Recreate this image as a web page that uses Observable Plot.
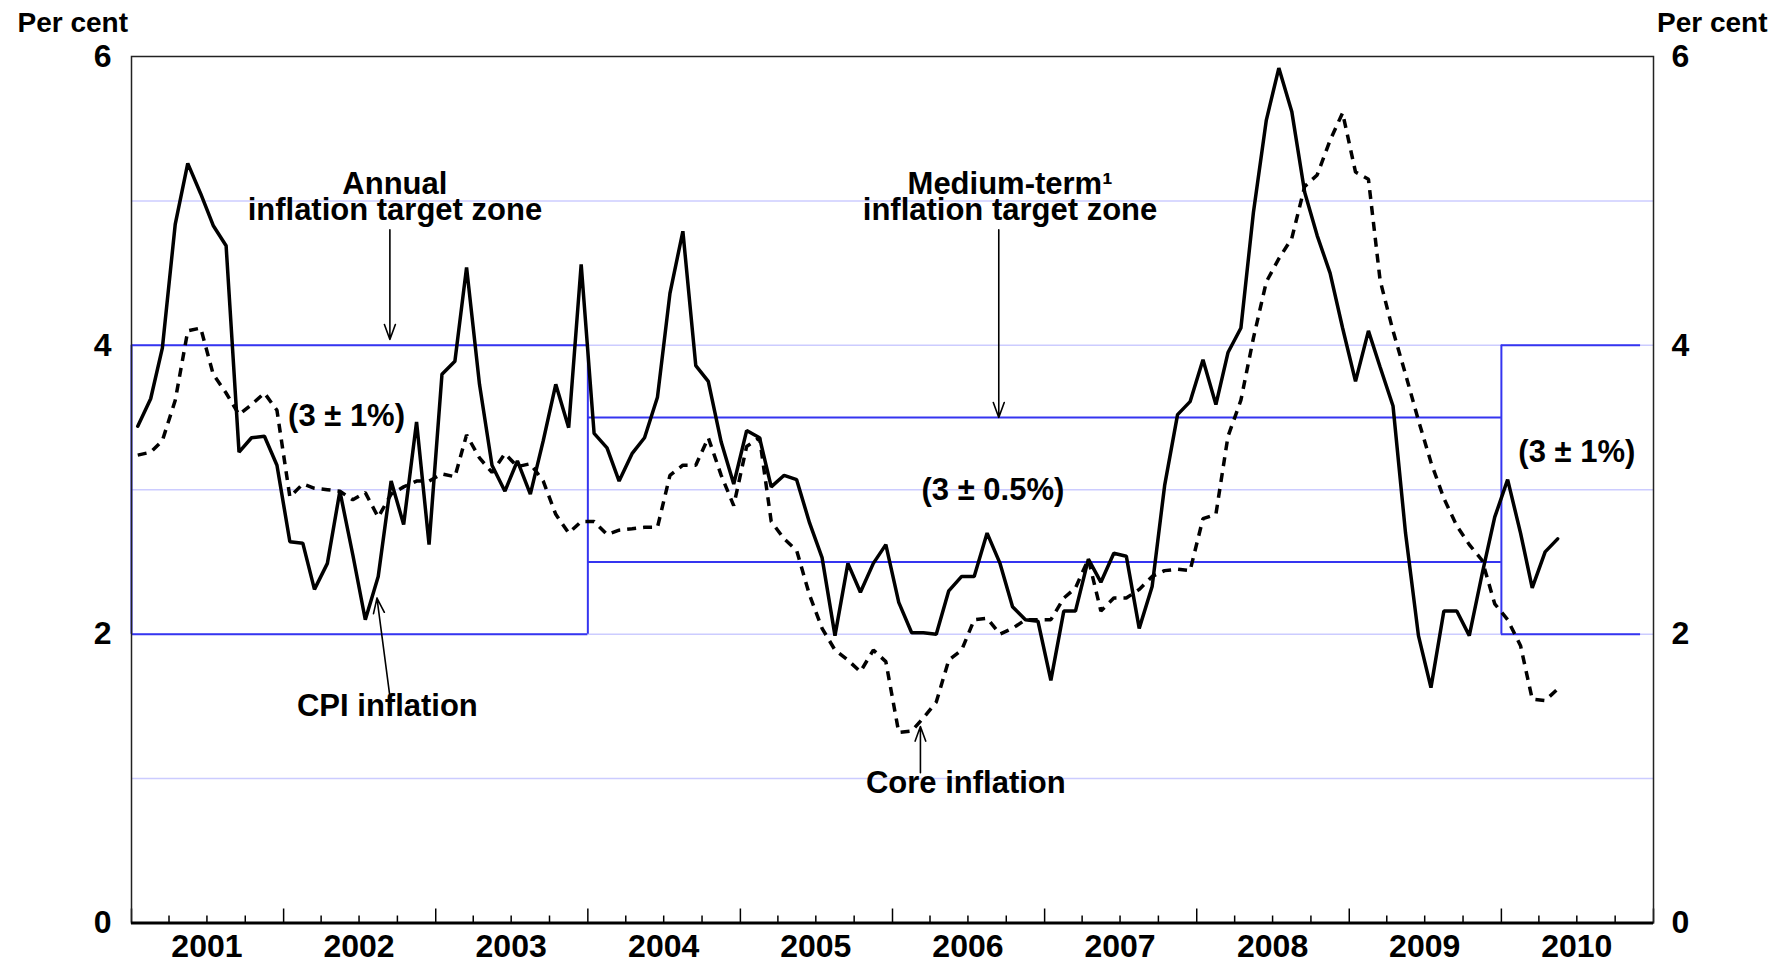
<!DOCTYPE html>
<html><head><meta charset="utf-8">
<script src="https://cdn.jsdelivr.net/npm/d3@7"></script>
<script src="https://cdn.jsdelivr.net/npm/@observablehq/plot@0.6"></script>
<style>
html,body{margin:0;padding:0;background:#fff;overflow:hidden;}
</style></head><body><div id="chart"></div>
<script>
// ---- data (monthly, from January 2001) ----
const startYear = 2001;
const cpi = [
  3.44,3.63,3.98,4.84,5.26,5.05,4.83,4.69,3.26,3.36,3.37,3.17,
  2.64,2.63,2.31,2.49,2.99,2.55,2.10,2.40,3.06,2.76,3.47,2.62,
  3.80,3.89,4.54,3.73,3.17,2.99,3.20,2.97,3.34,3.73,3.43,4.56,
  3.39,3.29,3.06,3.25,3.36,3.64,4.36,4.79,3.86,3.75,3.33,3.04,
  3.41,3.36,3.02,3.10,3.07,2.77,2.53,1.99,2.49,2.29,2.49,2.62,
  2.22,2.01,2.01,2.00,2.30,2.40,2.40,2.70,2.49,2.19,2.10,2.09,
  1.68,2.16,2.16,2.52,2.36,2.56,2.54,2.04,2.33,3.03,3.52,3.61,
  3.90,3.59,3.95,4.12,4.92,5.56,5.92,5.62,5.06,4.76,4.50,4.12,
  3.75,4.10,3.85,3.58,2.70,1.99,1.63,2.16,2.16,1.99,2.42,2.81,
  3.07,2.70,2.32,2.57,2.66
];
const core = [
  3.24,3.26,3.34,3.62,4.10,4.12,3.80,3.67,3.52,3.59,3.67,3.55,
  2.95,3.04,3.01,3.00,2.99,2.93,2.98,2.81,2.97,3.02,3.06,3.06,
  3.11,3.09,3.38,3.22,3.12,3.25,3.16,3.18,3.06,2.83,2.70,2.78,
  2.78,2.69,2.72,2.73,2.74,2.74,3.10,3.17,3.17,3.36,3.10,2.89,
  3.30,3.36,2.78,2.66,2.58,2.27,2.04,1.89,1.82,1.74,1.89,1.81,
  1.32,1.33,1.42,1.53,1.82,1.89,2.10,2.11,2.00,2.04,2.10,2.10,
  2.10,2.25,2.32,2.52,2.16,2.25,2.25,2.31,2.40,2.44,2.45,2.44,
  2.80,2.83,3.37,3.62,4.05,4.44,4.60,4.74,5.10,5.18,5.42,5.61,
  5.20,5.15,4.45,4.10,3.80,3.48,3.19,2.94,2.75,2.62,2.51,2.21,
  2.10,1.92,1.55,1.54,1.62
];
const years = [2001,2002,2003,2004,2005,2006,2007,2008,2009,2010];
const yTicks = [0,2,4,6];
const gridValues = [1,2,3,4,5];
// inflation target zones
const zoneStart = ["2001-01-01","2004-01-01","2010-01-01"];
const zoneEnd   = ["2004-01-01","2010-01-01","2010-12-01"];
const zoneLow   = [2, 2.5, 2];
const zoneHigh  = [4, 3.5, 4];
// annotations (anchor in data space)
const labelText  = ["Annual\ninflation target zone","Medium-term\u00b9\ninflation target zone","(3 \u00b1 1%)","(3 \u00b1 0.5%)","(3 \u00b1 1%)","CPI inflation","Core inflation"];
const labelDate  = ["2002-09-25","2006-10-10","2002-06-01","2006-08-30","2010-07-01","2002-09-07","2006-06-26"];
const labelValue = [4.87,4.87,3.44,2.93,3.19,1.43,0.90];
const arrowFromDate = ["2002-09-13","2006-09-13","2002-09-12","2006-03-09"];
const arrowFromValue = [4.80,4.80,1.59,1.04];
const arrowToDate = ["2002-09-13","2006-09-13","2002-08-13","2006-03-09"];
const arrowToValue = [4.04,3.50,2.25,1.36];

// ---- build tables ----
const monthDate = i => new Date(Date.UTC(startYear, i, 16));
const cpiData = cpi.map((v,i) => ({date: monthDate(i), value: v}));
const coreData = core.map((v,i) => ({date: monthDate(i), value: v}));
const zoneLines = [];
zoneStart.forEach((s,i) => {
  zoneLines.push({start:new Date(s), end:new Date(zoneEnd[i]), value: zoneLow[i]});
  zoneLines.push({start:new Date(s), end:new Date(zoneEnd[i]), value: zoneHigh[i]});
});
const zoneEdges = zoneStart.map((s,i) => ({
  date: new Date(s),
  low: i>0 ? Math.min(zoneLow[i], zoneLow[i-1]) : zoneLow[i],
  high: i>0 ? Math.max(zoneHigh[i], zoneHigh[i-1]) : zoneHigh[i]
}));
const majorTicks = d3.range(years[0], years[years.length-1]+2).map(y => new Date(Date.UTC(y,0,1)));
const minorTicks = [];
years.forEach(y => [3,6,9].forEach(m => minorTicks.push(new Date(Date.UTC(y,m,1)))));
const yearMid = years.map(y => new Date(Date.UTC(y,6,1)));
const labels = labelText.map((t,i) => ({text:t, date:new Date(labelDate[i]), value:labelValue[i]}));
const arrows = arrowFromDate.map((d,i) => ({x1:new Date(d), y1:arrowFromValue[i], x2:new Date(arrowToDate[i]), y2:arrowToValue[i]}));

// ---- layout ----
const W = 1784, H = 964;
const mL = 131, mR = 131, mT = 56, mB = 41.5;
const innerH = H - mT - mB;
const blue = "#3535f0";
const font = "'Liberation Sans', Arial, Helvetica, sans-serif";

const chart = Plot.plot({
  width: W, height: H,
  marginLeft: mL, marginRight: mR, marginTop: mT, marginBottom: mB,
  x: {type: "utc", domain: [majorTicks[0], majorTicks[majorTicks.length-1]]},
  y: {domain: [0, 6]},
  style: {fontFamily: font, fontWeight: "bold", background: "white", color: "black"},
  marks: [
    Plot.ruleY(gridValues, {stroke: "#ccccff", strokeWidth: 1.5}),
    Plot.ruleY(zoneLines, {x1: "start", x2: "end", y: "value", stroke: blue, strokeWidth: 2}),
    Plot.ruleX(zoneEdges, {x: "date", y1: "low", y2: "high", stroke: blue, strokeWidth: 2}),
    Plot.line(coreData, {x: "date", y: "value", stroke: "black", strokeWidth: 3.5, strokeDasharray: "9,7", strokeLinejoin: "miter", strokeLinecap: "butt"}),
    Plot.line(cpiData, {x: "date", y: "value", stroke: "black", strokeWidth: 3.5, strokeLinejoin: "miter"}),
    Plot.ruleX(majorTicks, {insetTop: innerH - 14, stroke: "black", strokeWidth: 1.5}),
    Plot.ruleX(minorTicks, {insetTop: innerH - 7, stroke: "black", strokeWidth: 1.5}),
    Plot.frame({stroke: "#222", strokeWidth: 1.5}),
    Plot.ruleY([0], {stroke: "black", strokeWidth: 3}),
    Plot.axisX(yearMid, {tickSize: 0, tickPadding: 11, tickFormat: d3.utcFormat("%Y"), fontSize: 32, fontWeight: "bold", label: null}),
    Plot.axisY(yTicks, {anchor: "left", tickSize: 0, tickPadding: 20, tickFormat: d3.format("d"), fontSize: 32, fontWeight: "bold", label: null}),
    Plot.axisY(yTicks, {anchor: "right", tickSize: 0, tickPadding: 18, tickFormat: d3.format("d"), fontSize: 32, fontWeight: "bold", label: null}),
    Plot.arrow(arrows, {x1: "x1", y1: "y1", x2: "x2", y2: "y2", stroke: "black", strokeWidth: 1.6, headLength: 15, headAngle: 40}),
    Plot.text(labels, {x: "date", y: "value", text: "text", lineAnchor: "bottom", lineHeight: 0.84, fontSize: 31, fontWeight: "bold", fill: "black"}),
    Plot.text(["Per cent"], {frameAnchor: "top-left", textAnchor: "start", lineAnchor: "bottom", dx: -114, dy: -25, fontSize: 28, fontWeight: "bold", fill: "black"}),
    Plot.text(["Per cent"], {frameAnchor: "top-right", textAnchor: "end", lineAnchor: "bottom", dx: 114, dy: -25, fontSize: 28, fontWeight: "bold", fill: "black"})
  ]
});
document.getElementById("chart").appendChild(chart);
</script></body></html>
